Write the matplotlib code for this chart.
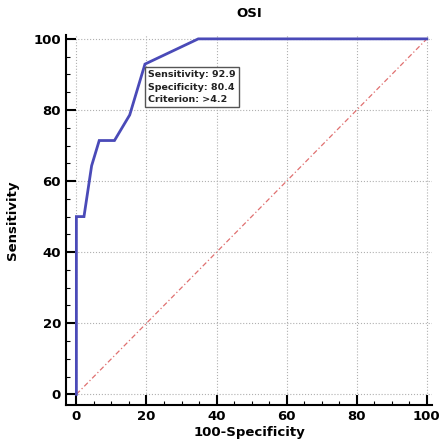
import matplotlib.pyplot as plt
import numpy as np

# ROC curve points (100-Specificity, Sensitivity)
fpr = [0, 0, 2.17, 4.35, 6.52, 10.87, 15.22, 19.57, 34.78, 100]
tpr = [0, 50, 50, 64.3, 71.4, 71.4, 78.6, 92.9, 100, 100]
ticks = [0, 20, 40, 60, 80, 100]
label_text = "Sensitivity: 92.9\nSpecificity: 80.4\nCriterion: >4.2"

fig = plt.figure(figsize=(4.45, 4.47), dpi=100)
ax = fig.add_axes([0.148, 0.094, 0.823, 0.827])

ax.plot([0, 100], [0, 100], color='#e07070', linestyle=(0, (4, 2, 1, 2)), linewidth=0.9)
ax.plot(fpr, tpr, color='#4a4ab8', linewidth=2, solid_joinstyle='miter')

ax.set_xlim(-3, 101.5)
ax.set_ylim(-3, 101)
ax.set_xticks(ticks)
ax.set_yticks(ticks)
ax.set_xticks(np.arange(0, 101, 5), minor=True)
ax.set_yticks(np.arange(0, 101, 5), minor=True)
ax.tick_params(which='major', direction='in', length=7, width=1.5, labelsize=9.5)
ax.tick_params(which='minor', direction='in', length=3, width=0.8)
for lbl in ax.get_xticklabels() + ax.get_yticklabels():
    lbl.set_fontweight('bold')

ax.grid(True, which='major', color='#b0b0b0', linestyle=':', linewidth=0.8)
for side in ['top', 'right']:
    ax.spines[side].set_visible(False)
for side in ['left', 'bottom']:
    ax.spines[side].set_linewidth(1.5)

ax.text(20.5, 91.3, label_text, fontsize=6.8, fontweight='bold', va='top', ha='left',
        linespacing=1.55, color='#222222',
        bbox=dict(boxstyle='square,pad=0.3', facecolor='white', edgecolor='#555555', linewidth=1))

ax.set_title('OSI', fontsize=9.5, fontweight='bold', pad=13)
ax.set_xlabel('100-Specificity', fontsize=9.5, fontweight='bold', labelpad=2)
ax.set_ylabel('Sensitivity', fontsize=9.5, fontweight='bold', labelpad=10)

fig.savefig('out.png', dpi=100)
